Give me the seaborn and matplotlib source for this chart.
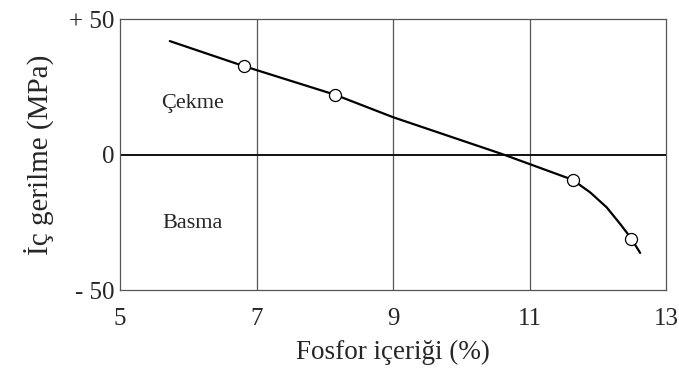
import matplotlib
matplotlib.use("Agg")
import matplotlib.pyplot as plt
import seaborn as sns
import pandas as pd

# Data
curve_x = [5.73, 6.81, 8.15, 9.0, 10.62, 11.63, 11.89, 12.13, 12.33, 12.49, 12.62]
curve_y = [41.9, 32.7, 22.1, 13.8, 0.0, -9.3, -14.0, -19.5, -25.7, -31.0, -36.3]
marker_x = [6.81, 8.15, 11.63, 12.49]
marker_y = [32.7, 22.1, -9.3, -31.0]
x_ticks = [5, 7, 9, 11, 13]
y_ticks = [-50, 0, 50]
y_tick_labels = ["- 50", "0", "+ 50"]

sns.set_theme(style="white")
plt.rcParams['font.family'] = ['Liberation Serif', 'DejaVu Serif']

fig = plt.figure(figsize=(6.79, 3.83), dpi=100)
ax = fig.add_axes([0.1767, 0.2428, 0.8043, 0.7072])

curve = pd.DataFrame({"x": curve_x, "y": curve_y})
pts = pd.DataFrame({"x": marker_x, "y": marker_y})

for xv in [7, 9, 11]:
    ax.axvline(xv, color="#555555", lw=0.9, zorder=1)
ax.axhline(0, color="#111111", lw=1.4, zorder=1)

sns.lineplot(data=curve, x="x", y="y", ax=ax, sort=False, color="black",
             lw=1.6, zorder=2)
sns.scatterplot(data=pts, x="x", y="y", ax=ax, s=75, color="white",
                edgecolor="black", linewidth=0.9, zorder=3)

ax.set_xlim(5, 13)
ax.set_ylim(-50, 50)
ax.set_xticks(x_ticks)
ax.set_xticklabels([str(t) for t in x_ticks], fontsize=18)
ax.set_yticks(y_ticks)
ax.set_yticklabels(y_tick_labels, fontsize=18)
ax.tick_params(axis="x", length=0, pad=13)
ax.tick_params(axis="y", length=0, pad=4)
ax.set_xlabel("Fosfor içeriği (%)", fontsize=19.5, labelpad=7)
ax.set_ylabel("İç gerilme (MPa)", fontsize=21, labelpad=11)

ax.text(6.07, 18.9, "Çekme", fontsize=16, ha="center", va="center")
ax.text(6.07, -25.6, "Basma", fontsize=16, ha="center", va="center")

for s in ax.spines.values():
    s.set_color("#555555")
    s.set_linewidth(0.9)

fig.savefig("out.png", dpi=100)
